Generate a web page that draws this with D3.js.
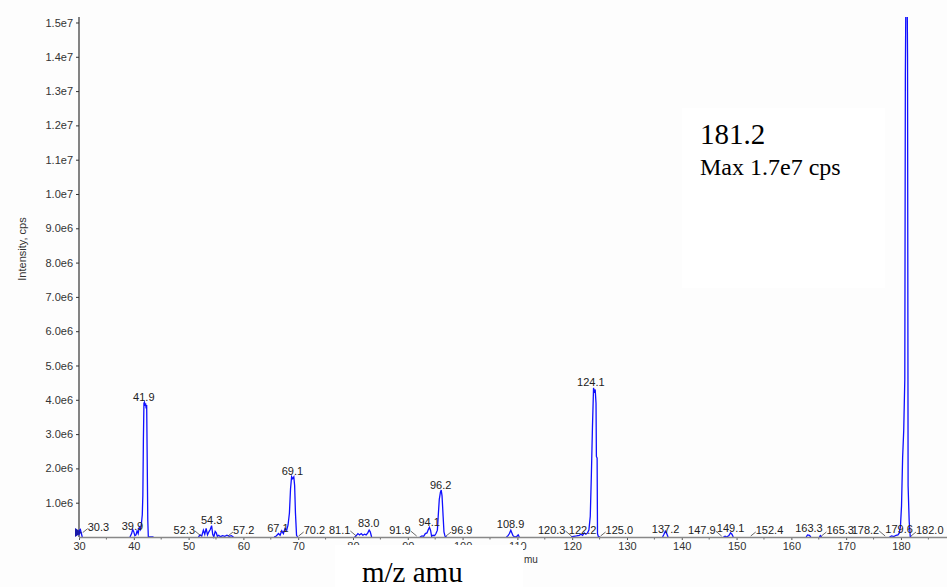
<!DOCTYPE html>
<html>
<head>
<meta charset="utf-8">
<script src="https://cdn.jsdelivr.net/npm/d3@7"></script>
<style>
  html, body { margin: 0; padding: 0; background: #fdfdfd; }
  svg { display: block; }
</style>
</head>
<body>
<svg id="chart" width="947" height="587"></svg>
<script>
// ---------------- DATA ----------------
// Mass spectrum profile: [m/z, intensity in 1e6 cps]; null separates clusters
const spectrum = [
  [30.0,0.05],[30.1,0.2],[30.25,0.22],[30.4,0.12],[30.6,0.0], null,
  [39.3,0],[39.6,0.1],[39.8,0.22],[40.0,0.15],[40.2,0.04],[40.4,0.06],[40.6,0.18],[40.8,0.1],
  [41.0,0.28],[41.2,0.22],[41.4,0.4],[41.55,0.65],[41.65,1.2],[41.75,2.8],[41.85,3.9],[41.95,3.93],
  [42.05,3.82],[42.15,3.9],[42.25,3.75],[42.35,3.85],[42.45,2.2],[42.55,0.5],[42.65,0],[43.6,0], null,
  [51.8,0],[52.1,0.06],[52.4,0.03],[52.7,0.2],[52.95,0.08],[53.2,0.25],[53.45,0.06],[53.7,0.15],
  [53.95,0.22],[54.2,0.33],[54.4,0.08],[54.6,0.0],[54.85,0.16],[55.05,0.12],[55.25,0.02],[55.5,0.05],
  [55.8,0.01],[56.2,0.04],[56.6,0.02],[57.0,0.05],[57.4,0.02],[57.8,0.04],[58.2,0], null,
  [65.6,0],[66.0,0.03],[66.4,0.1],[66.7,0.05],[67.0,0.18],[67.3,0.1],[67.6,0.25],[67.9,0.2],
  [68.15,0.35],[68.4,0.7],[68.6,1.4],[68.8,1.76],[69.0,1.7],[69.2,1.75],[69.35,1.5],[69.5,0.7],
  [69.7,0.05],[69.9,0], null,
  [80.3,0],[80.6,0.04],[80.9,0.1],[81.2,0.06],[81.5,0.1],[81.8,0.05],[82.1,0.08],[82.4,0.06],
  [82.7,0.12],[82.95,0.2],[83.15,0.15],[83.4,0], null,
  [92.2,0],[92.6,0.03],[92.9,0.02],[93.2,0.1],[93.5,0.12],[93.75,0.22],[93.95,0.28],[94.15,0.2],
  [94.35,0.02],[94.6,0.05],[94.9,0.04],[95.15,0.1],[95.4,0.2],[95.55,0.6],[95.75,1.1],[95.95,1.3],
  [96.1,1.37],[96.25,1.2],[96.45,0.6],[96.6,0.15],[96.8,0.02],[97.1,0], null,
  [108.0,0],[108.3,0.04],[108.55,0.1],[108.8,0.2],[109.0,0.12],[109.2,0.04],[109.5,0],[109.9,0.02],
  [110.15,0.06],[110.35,0], null,
  [119.8,0],[120.3,0.02],[120.8,0.03],[121.3,0.05],[121.6,0.08],[121.9,0.05],[122.2,0.12],[122.5,0.08],
  [122.8,0.12],[123.05,0.2],[123.3,0.6],[123.5,1.8],[123.7,3.2],[123.9,4.35],[124.05,4.2],[124.2,4.3],
  [124.35,3.9],[124.42,2.35],[124.55,2.3],[124.62,0.1],[124.8,0],[125.1,0], null,
  [136.5,0],[136.75,0.08],[137.0,0.17],[137.25,0.1],[137.5,0], null,
  [147.6,0],[147.9,0.02],[148.2,0],[148.6,0.04],[148.9,0.12],[149.15,0.08],[149.4,0], null,
  [162.7,0],[162.95,0.06],[163.3,0.05],[163.55,0], null,
  [165.1,0],[165.3,0.04],[165.5,0], null,
  [177.9,0],[178.3,0.03],[178.7,0.01],[179.1,0.05],[179.45,0.06],[179.7,0.12],[179.9,0.3],[180.1,0.9],
  [180.3,2.3],[180.5,3.1],[180.7,4.6],[180.8,13.5],[180.95,17],[181.1,16.6],[181.2,14.0],[181.3,1.5],
  [181.5,0.45],[181.7,0],[181.9,0]
];

// Peak labels: text, anchor m/z, anchor intensity (1e6 cps), placement
const labelTexts = ["30.3","39.9","41.9","52.3","54.3","57.2","67.1","69.1","70.2","81.1","83.0","91.9","94.1",
  "96.2","96.9","108.9","120.3","122.2","124.1","125.0","137.2","147.9","149.1","152.4","163.3",
  "165.3","178.2","179.6","182.0"];
const labelMz = [30.5,39.75,41.83,52.45,54.2,57.0,66.3,68.95,69.9,80.8,82.85,91.8,93.9,
  96.0,96.8,108.75,120.05,121.9,123.4,125.0,137.05,147.45,148.9,152.4,163.2,
  165.3,177.3,179.66,181.65];
const labelIntensity = [0.1,0.12,3.88,0,0.28,0,0.07,1.72,0,0,0.2,0,0.23,
  1.31,0,0.18,0,0,4.31,0,0.03,0,0.05,0,0.05,
  0,0,0.03,0];
const labelPlacement = ["right","above","above","left","above","right","above","above","right","left","above","left","above",
  "above","right","above","left","above","above","right","above","left","above","right","above",
  "right","left","above","right"];

const yTickValues = [1,2,3,4,5,6,7,8,9,10,11,12,13,14,15];
const yTickLabels = ["1.0e6","2.0e6","3.0e6","4.0e6","5.0e6","6.0e6","7.0e6","8.0e6","9.0e6",
  "1.0e7","1.1e7","1.2e7","1.3e7","1.4e7","1.5e7"];
const xTickValues = [30,40,50,60,70,80,90,100,110,120,130,140,150,160,170,180];
const xMinorTicks = [35,45,55,65,75,85,95,105,115,125,135,145,155,165,175,185];

const yTitle = "Intensity, cps";
const xTitleFragment = "mu";
const xTitle = "m/z amu";
const annotPeak = "181.2";
const annotMax = "Max 1.7e7 cps";

// ---------------- DRAW ----------------
const svg = d3.select("#chart");
const sans = "'Liberation Sans', Arial, sans-serif";
const serif = "'Liberation Serif', 'Times New Roman', serif";

const x = d3.scaleLinear().domain([30, 188.4]).range([79, 947]);
const y = d3.scaleLinear().domain([0, 15.16]).range([537, 17]);

svg.append("rect").attr("width", 947).attr("height", 587).attr("fill", "#fdfdfd");

// annotation box background
svg.append("rect").attr("x", 682).attr("y", 108).attr("width", 203).attr("height", 180).attr("fill", "#ffffff");

svg.append("defs").append("clipPath").attr("id", "plotclip")
  .append("rect").attr("x", 70).attr("y", 17).attr("width", 877).attr("height", 525);

// Y axis
const yAxis = d3.axisLeft(y).tickValues(yTickValues).tickSize(3).tickPadding(3)
  .tickFormat((d, i) => yTickLabels[i]);
const gy = svg.append("g").attr("transform", "translate(79,0)").call(yAxis);
gy.select(".domain").remove();
gy.selectAll(".tick line").attr("stroke", "#333");
gy.selectAll(".tick text").attr("font-family", sans).attr("font-size", 11).attr("fill", "#333");
svg.append("line").attr("x1", 79).attr("x2", 79).attr("y1", 17).attr("y2", 537)
  .attr("stroke", "#333").attr("stroke-width", 1.2);

// X axis
const xAxis = d3.axisBottom(x).tickValues(xTickValues).tickSize(3).tickPadding(2).tickFormat(d3.format("d"));
const gx = svg.append("g").attr("transform", "translate(0,537)").call(xAxis);
gx.select(".domain").remove();
gx.selectAll(".tick line").attr("stroke", "#555");
gx.selectAll(".tick text").attr("font-family", sans).attr("font-size", 11).attr("fill", "#333");
svg.append("g").selectAll("line").data(xMinorTicks).join("line")
  .attr("x1", d => x(d)).attr("x2", d => x(d)).attr("y1", 537).attr("y2", 539.5)
  .attr("stroke", "#666");

// spectrum
const line = d3.line().defined(d => d !== null).x(d => x(d[0])).y(d => y(d[1]));
svg.append("path").datum(spectrum).attr("d", line).attr("fill", "none")
  .attr("stroke", "#1010ff").attr("stroke-width", 1.3).attr("clip-path", "url(#plotclip)");

// x baseline line (grey)
svg.append("line").attr("x1", 79).attr("x2", 947).attr("y1", 537.5).attr("y2", 537.5)
  .attr("stroke", "#888").attr("stroke-width", 1.4);

// start marker
svg.append("path")
  .attr("d", `M${x(30) - 4},528 L${x(30) - 4},537 L${x(30) + 3},532.5 Z`)
  .attr("fill", "#1a1aa8");

// peak labels
const lg = svg.append("g").attr("font-family", sans).attr("font-size", 11).attr("fill", "#222");
labelTexts.forEach((t, i) => {
  const px = x(labelMz[i]);
  const py = y(labelIntensity[i]);
  const mode = labelPlacement[i];
  if (mode === "above") {
    lg.append("text").attr("x", px).attr("y", py - 3).attr("text-anchor", "middle").text(t);
  } else if (mode === "left") {
    lg.append("line").attr("x1", px - 1).attr("y1", py - 1).attr("x2", px - 7).attr("y2", py - 6)
      .attr("stroke", "#444").attr("stroke-width", 0.8);
    lg.append("text").attr("x", px - 7).attr("y", py - 3).attr("text-anchor", "end").text(t);
  } else {
    lg.append("line").attr("x1", px + 1).attr("y1", py - 1).attr("x2", px + 6).attr("y2", py - 5)
      .attr("stroke", "#444").attr("stroke-width", 0.8);
    lg.append("text").attr("x", px + 6).attr("y", py - 3).attr("text-anchor", "start").text(t);
  }
});

// y title
svg.append("text").attr("transform", "translate(26,249) rotate(-90)")
  .attr("text-anchor", "middle").attr("font-family", sans).attr("font-size", 11)
  .attr("fill", "#333").text(yTitle);

// white cover box below axis
svg.append("rect").attr("x", 335).attr("y", 545).attr("width", 188).attr("height", 42).attr("fill", "#ffffff");
svg.append("text").attr("x", 524).attr("y", 563).attr("font-family", sans).attr("font-size", 10)
  .attr("fill", "#333").text(xTitleFragment);
svg.append("text").attr("x", 362).attr("y", 582).attr("font-family", serif).attr("font-size", 29)
  .attr("fill", "#000").text(xTitle);

// annotation
svg.append("text").attr("x", 700).attr("y", 144).attr("font-family", serif).attr("font-size", 29)
  .attr("fill", "#000").text(annotPeak);
svg.append("text").attr("x", 700).attr("y", 175).attr("font-family", serif).attr("font-size", 24)
  .attr("fill", "#000").text(annotMax);
</script>
</body>
</html>
